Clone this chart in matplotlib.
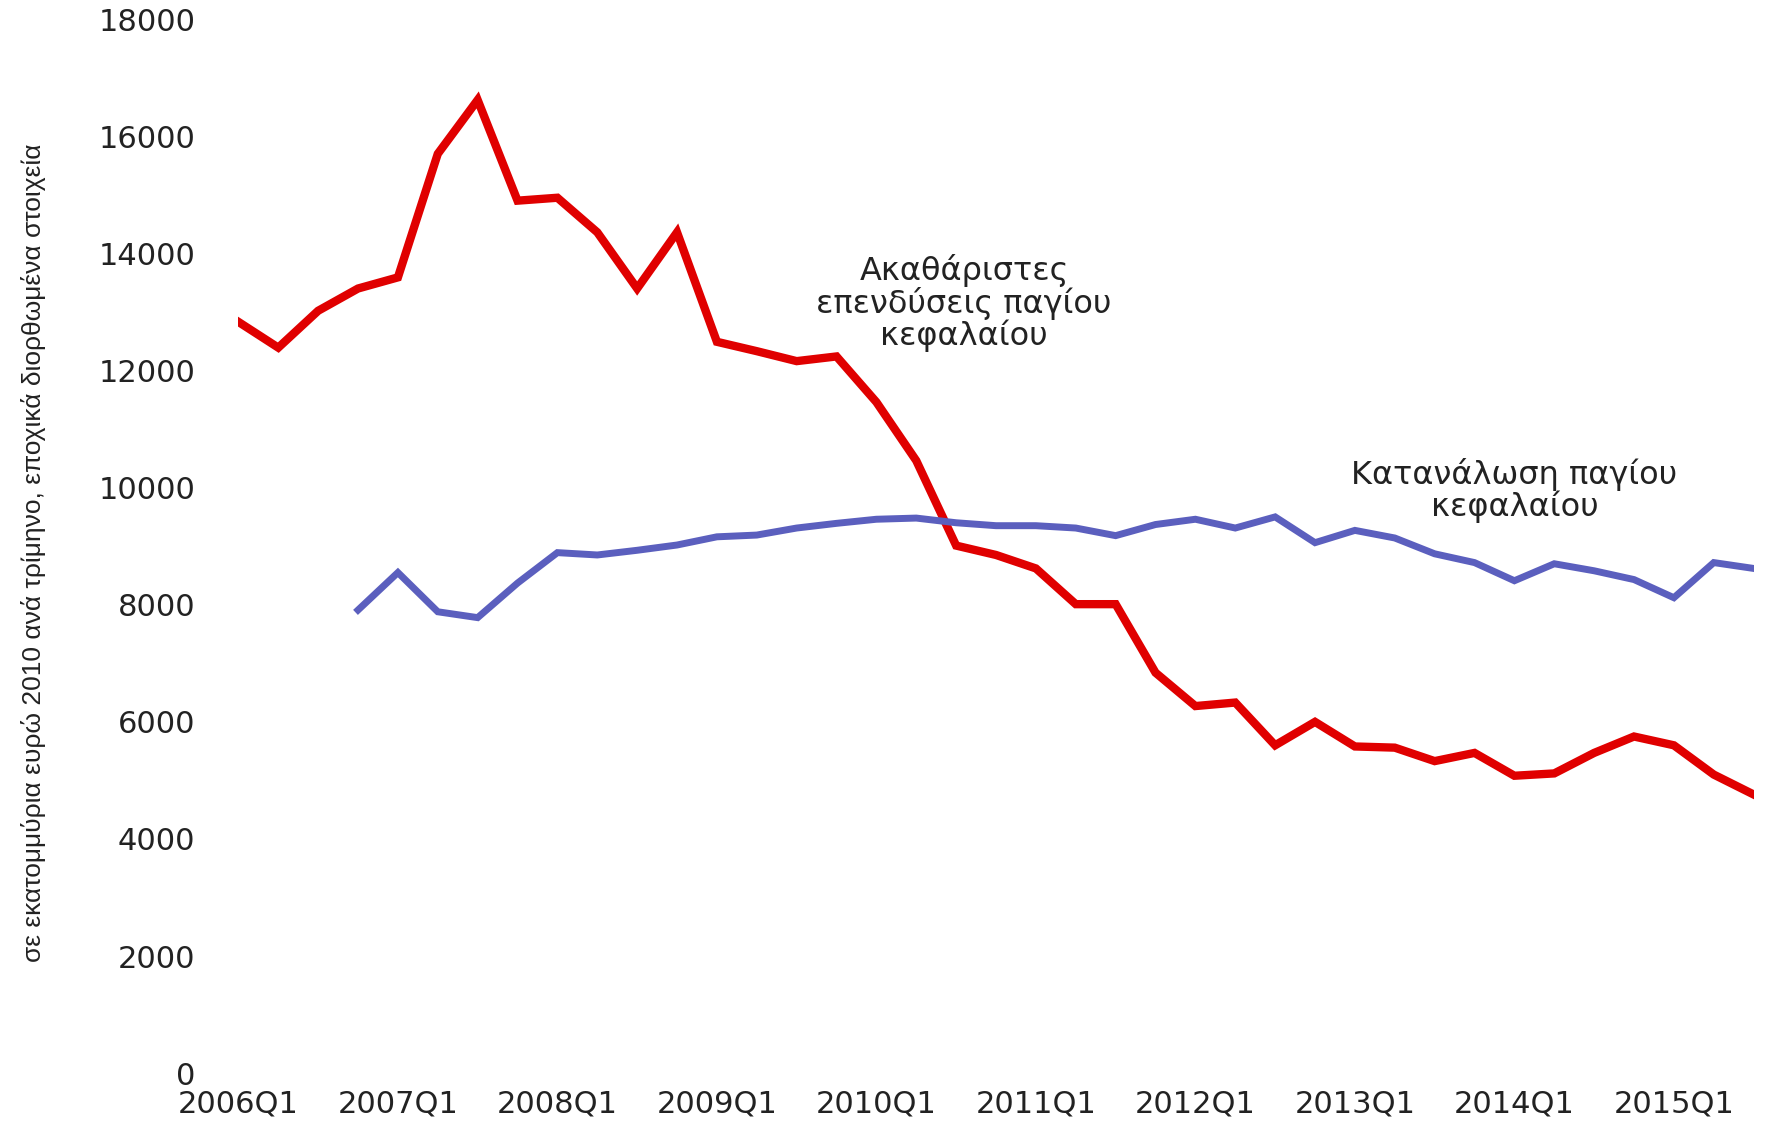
import matplotlib
matplotlib.use("Agg")
import matplotlib.pyplot as plt

# quarters 2006Q1 .. 2015Q3
quarters = [f"{y}Q{q}" for y in range(2006, 2016) for q in range(1, 5)][:39]

# gross fixed capital formation (red)
investment = [12830, 12390, 13020, 13400, 13590, 15700, 16620, 14900,
              14950, 14360, 13400, 14360, 12490, 12330, 12160, 12240,
              11460, 10460, 9010, 8850, 8620, 8010, 8010, 6840,
              6270, 6330, 5600, 6000, 5580, 5560, 5330, 5470,
              5080, 5120, 5470, 5750, 5600, 5100, 4760]

# consumption of fixed capital (blue), starts 2006Q4
consumption = [None, None, None, 7910, 8550, 7880, 7780, 8370,
               8890, 8850, 8930, 9020, 9160, 9190, 9310, 9390,
               9460, 9480, 9400, 9350, 9350, 9310, 9180, 9370,
               9460, 9310, 9500, 9060, 9270, 9140, 8870, 8720,
               8410, 8700, 8580, 8430, 8120, 8720, 8620]

yticks = [0, 2000, 4000, 6000, 8000, 10000, 12000, 14000, 16000, 18000]

plt.rcParams['font.family'] = ['DejaVu Sans']

fig = plt.figure(figsize=(17.66, 11.25), dpi=100)
ax = fig.add_axes([0.135, 0.046, 0.858, 0.937])

x = list(range(len(quarters)))
ax.plot(x, investment, color='#e00000', lw=6, solid_joinstyle='miter')
xb = [i for i, v in enumerate(consumption) if v is not None]
yb = [v for v in consumption if v is not None]
ax.plot(xb, yb, color='#5b5fbe', lw=5, solid_joinstyle='miter')

ax.set_xlim(0, len(quarters) - 1)
ax.set_ylim(0, 18000)
ax.set_yticks(yticks)
ax.set_yticklabels([str(v) for v in yticks])
xt = [i for i, q in enumerate(quarters) if q.endswith('Q1')]
ax.set_xticks(xt)
ax.set_xticklabels([quarters[i] for i in xt])
ax.tick_params(length=0, labelsize=22, colors='#222222')
ax.tick_params(axis='y', pad=31)
ax.tick_params(axis='x', pad=12)
for s in ax.spines.values():
    s.set_visible(False)

ax.text(18.2, 13150, "Ακαθάριστες\nεπενδύσεις παγίου\nκεφαλαίου", ha='center',
        va='center', fontsize=23, color='#222222', linespacing=1.0)
ax.text(32.0, 9950, "Κατανάλωση παγίου\nκεφαλαίου", ha='center',
        va='center', fontsize=23, color='#222222', linespacing=1.0)

fig.text(0.019, 0.509, "σε εκατομμύρια ευρώ 2010 ανά τρίμηνο, εποχικά διορθωμένα στοιχεία",
         rotation=90, ha='center', va='center', fontsize=19, color='#222222',
         family='Liberation Sans')

fig.savefig('out.png', dpi=100)
